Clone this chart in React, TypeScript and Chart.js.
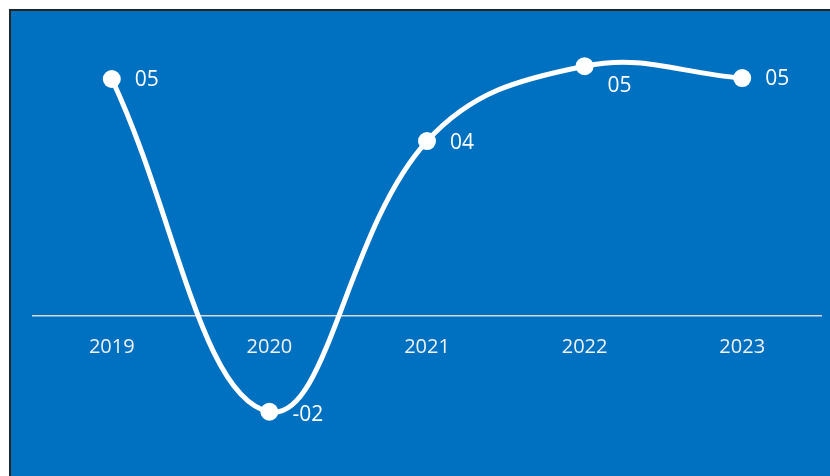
import React, { useEffect, useRef } from "react";
import { Chart, registerables } from "chart.js";

Chart.register(...registerables);

const categories = ["2019", "2020", "2021", "2022", "2023"];
const values = [5.0, -2.02, 3.69, 5.27, 5.02];
const labelShiftY = [1, 3, 2, 20, 1];

const fmt = (v: number) => {
  const r = Math.round(Math.abs(v));
  const s = r < 10 ? "0" + r : String(r);
  return v < 0 ? "-" + s : s;
};

const labelPlugin = {
  id: "pointLabels",
  afterDatasetsDraw(chart: any) {
    const ctx = chart.ctx;
    const meta = chart.getDatasetMeta(0);
    ctx.save();
    ctx.fillStyle = "#FFFFFF";
    ctx.font = "21px 'Open Sans', 'Noto Sans', sans-serif";
    ctx.textAlign = "left";
    ctx.textBaseline = "middle";
    meta.data.forEach((pt: any, i: number) => {
      ctx.fillText(fmt(values[i]), pt.x + 23, pt.y + labelShiftY[i]);
    });
    ctx.restore();
  },
};

export default function App() {
  const ref = useRef<HTMLCanvasElement | null>(null);
  useEffect(() => {
    if (!ref.current) return;
    const chart = new Chart(ref.current, {
      type: "line",
      data: {
        labels: categories,
        datasets: [
          {
            data: values,
            borderColor: "#FFFFFF",
            borderWidth: 5,
            tension: 0.4,
            pointRadius: 9,
            pointBackgroundColor: "#FFFFFF",
            pointBorderColor: "#FFFFFF",
            pointBorderWidth: 0,
            clip: false as any,
          },
        ],
      },
      options: {
        animation: false,
        responsive: false,
        maintainAspectRatio: false,
        layout: { padding: { left: 33, right: 8, top: 31.6, bottom: 17.8 } },
        plugins: { legend: { display: false }, tooltip: { enabled: false } },
        scales: {
          x: {
            position: { y: 0 } as any,
            offset: true,
            grid: { display: false, drawTicks: false },
            border: { display: true, color: "#D9D9D9", width: 1.5 },
            ticks: {
              color: "#F2F2F2",
              padding: 19,
              font: { family: "'Open Sans', 'Noto Sans', sans-serif", size: 20 },
            },
          },
          y: {
            display: false,
            min: -3,
            max: 6,
          },
        },
      },
      plugins: [labelPlugin],
    });
    return () => chart.destroy();
  }, []);
  return (
    <div
      style={{
        position: "fixed",
        left: 0,
        top: 0,
        width: 830,
        height: 476,
        background: "#FFFFFF",
        overflow: "hidden",
      }}
    >
      <div
        style={{
          position: "absolute",
          left: 9,
          top: 9,
          width: 840,
          height: 480,
          background: "#0070C0",
          border: "2px solid #262626",
        }}
      />
      <canvas
        ref={ref}
        width={830}
        height={476}
        style={{ position: "absolute", left: 0, top: 0, width: 830, height: 476 }}
      />
    </div>
  );
}
